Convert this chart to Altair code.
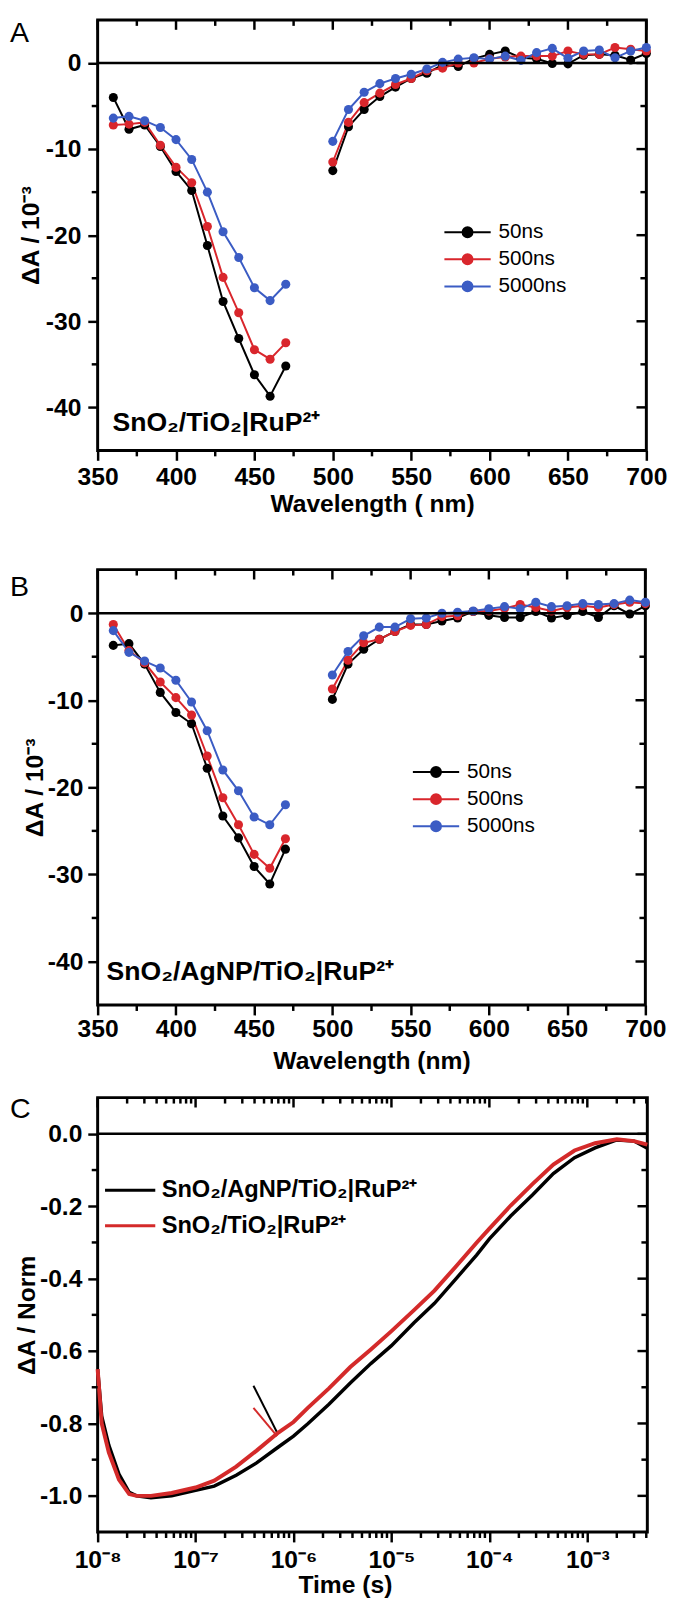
import altair as alt
import pandas as pd

FONT = "Liberation Sans"

# ---------------- Panels A and B : transient spectra ----------------
wl_uv = [360, 370, 380, 390, 400, 410, 420, 430, 440, 450, 460, 470]
wl_vis = [500, 510, 520, 530, 540, 550, 560, 570, 580, 590, 600,
          610, 620, 630, 640, 650, 660, 670, 680, 690, 700]

series_names = ["50ns", "500ns", "5000ns"]
series_colors = ["#000000", "#d9262c", "#3b5cc4"]

# Panel A  (SnO2/TiO2|RuP2+), ΔA / 1e-3
a_50_uv = [-4.0, -7.7, -7.2, -9.7, -12.6, -14.8, -21.2, -27.7, -32.0, -36.2, -38.7, -35.2]
a_500_uv = [-7.2, -7.1, -6.9, -9.55, -12.1, -13.9, -19.0, -24.9, -29.0, -33.3, -34.4, -32.5]
a_5000_uv = [-6.4, -6.2, -6.7, -7.5, -8.9, -11.2, -15.0, -19.6, -22.6, -26.1, -27.6, -25.7]
a_50_vis = [-12.5, -7.4, -5.4, -3.9, -2.8, -1.8, -1.2, -0.2, -0.4, 0.5, 1.0,
            1.4, 0.6, 0.5, -0.05, -0.1, 0.9, 1.0, 0.9, 0.35, 1.1]
a_500_vis = [-11.5, -6.9, -4.6, -3.5, -2.5, -1.8, -0.9, -0.6, 0.0, 0.0, 0.5,
             0.7, 0.8, 0.8, 0.8, 1.4, 1.0, 1.0, 1.8, 1.6, 1.4]
a_5000_vis = [-9.1, -5.4, -3.4, -2.4, -1.8, -1.3, -0.7, 0.07, 0.45, 0.6, 0.45,
              0.8, 0.3, 1.2, 1.7, 0.55, 1.4, 1.5, 0.6, 1.4, 1.8]

# Panel B  (SnO2/AgNP/TiO2|RuP2+)
b_50_uv = [-3.7, -3.5, -5.85, -9.1, -11.4, -12.7, -17.8, -23.3, -25.8, -29.1, -31.1, -27.1]
b_500_uv = [-1.3, -4.3, -5.7, -7.9, -9.7, -11.7, -16.4, -21.2, -24.3, -27.7, -29.3, -25.9]
b_5000_uv = [-2.0, -4.5, -5.5, -6.3, -7.7, -10.2, -13.5, -18.0, -20.4, -23.4, -24.3, -22.0]
b_50_vis = [-9.9, -5.85, -4.15, -3.0, -2.1, -1.3, -1.3, -0.9, -0.55, 0.2, -0.25,
            -0.5, -0.5, 0.2, -0.55, -0.25, 0.2, -0.5, 0.85, -0.1, 0.85]
b_500_vis = [-8.7, -5.4, -3.4, -3.0, -2.1, -1.4, -1.3, -0.4, -0.3, 0.2, 0.25,
             0.55, 1.0, 0.65, 0.25, 0.65, 0.85, 0.65, 1.0, 1.25, 1.1]
b_5000_vis = [-7.1, -4.4, -2.6, -1.6, -1.6, -0.65, -0.55, 0.0, 0.1, 0.25, 0.5,
              0.75, 0.5, 1.25, 0.75, 0.85, 1.1, 1.0, 1.1, 1.5, 1.25]

wl_domain = [350, 700]
wl_major = [350, 400, 450, 500, 550, 600, 650, 700]
wl_minor = [375, 425, 475, 525, 575, 625, 675]
dA_domain = [-45, 5]
dA_major = [-40, -30, -20, -10, 0]
dA_minor = [-35, -25, -15, -5]

# ---------------- Panel C : normalised kinetics ----------------
c_names = ["SnO₂/AgNP/TiO₂|RuP²⁺", "SnO₂/TiO₂|RuP²⁺"]
c_colors = ["#000000", "#d42a2a"]
time_s = [1.0e-8, 1.1e-8, 1.3e-8, 1.65e-8, 2.1e-8, 2.5e-8, 3.5e-8, 5.7e-8,
          1.0e-7, 1.55e-7, 2.6e-7, 4.2e-7, 7.0e-7, 1.0e-6, 1.4e-6, 2.3e-6,
          3.8e-6, 6.2e-6, 1.0e-5, 1.7e-5, 2.75e-5, 4.6e-5, 7.4e-5, 1.0e-4,
          1.65e-4, 2.75e-4, 4.5e-4, 7.4e-4, 1.2e-3, 2.0e-3, 3.0e-3, 4.1e-3]
c_agnp = [-0.65, -0.78, -0.86, -0.94, -0.99, -1.0, -1.005, -1.0,
          -0.985, -0.973, -0.943, -0.909, -0.865, -0.835, -0.801, -0.747,
          -0.688, -0.634, -0.585, -0.522, -0.468, -0.399, -0.335, -0.29,
          -0.227, -0.169, -0.110, -0.066, -0.039, -0.017, -0.02, -0.04]
c_tio2 = [-0.65, -0.80, -0.88, -0.955, -0.995, -1.0, -1.0, -0.992,
          -0.977, -0.958, -0.919, -0.875, -0.825, -0.796, -0.757, -0.703,
          -0.644, -0.595, -0.545, -0.487, -0.433, -0.365, -0.301, -0.262,
          -0.198, -0.139, -0.085, -0.046, -0.026, -0.015, -0.02, -0.03]
# two short stray segments near 1 µs
seg_time = [3.9e-7, 6.8e-7]
seg_agnp = [-0.696, -0.825]
seg_tio2 = [-0.757, -0.835]

time_domain = [1e-8, 4.1e-3]
time_major = [1e-8, 1e-7, 1e-6, 1e-5, 1e-4, 1e-3]
time_major_labels = ["10⁻⁸", "10⁻⁷", "10⁻⁶", "10⁻⁵", "10⁻⁴", "10⁻³"]
time_minor = [m * d for d in [1e-8, 1e-7, 1e-6, 1e-5, 1e-4] for m in range(2, 10)] + [2e-3, 3e-3, 4e-3]
norm_domain = [-1.1, 0.1]
norm_major = [-1.0, -0.8, -0.6, -0.4, -0.2, 0.0]
norm_minor = [-0.9, -0.7, -0.5, -0.3, -0.1]

MINUS = "replace(datum.label, '\u2212', '-')"
TICK_W = 2.5
LETTER_DX = -89


def spectra_df(uvs, viss):
    rows = []
    for name, uv, vis in zip(series_names, uvs, viss):
        for w, v in zip(wl_uv, uv):
            rows.append({"wl": w, "dA": v, "series": name, "seg": name + "_uv"})
        for w, v in zip(wl_vis, vis):
            rows.append({"wl": w, "dA": v, "series": name, "seg": name + "_vis"})
    return pd.DataFrame(rows)


def xtick_rules(values, scale, y0, y1):
    return alt.Chart(pd.DataFrame({"v": values})).mark_rule(
        color="black", strokeWidth=TICK_W).encode(
        x=alt.X("v:Q", scale=scale), y=alt.value(y0), y2=alt.value(y1))


def ytick_rules(values, scale, x0, x1):
    return alt.Chart(pd.DataFrame({"v": values})).mark_rule(
        color="black", strokeWidth=TICK_W).encode(
        y=alt.Y("v:Q", scale=scale), x=alt.value(x0), x2=alt.value(x1))


def frame_ticks(xsc, ysc, xmaj, xmin, ymaj, ymin, W, H):
    return [
        xtick_rules(xmin, xsc, H, H + 6),
        xtick_rules(xmaj, xsc, 0, 10),
        xtick_rules(xmin, xsc, 0, 6),
        ytick_rules(ymin, ysc, -6, 0),
        ytick_rules(ymaj, ysc, W - 10, W),
        ytick_rules(ymin, ysc, W - 6, W),
    ]


def text_layer(txt, dx, dy, size, weight):
    return alt.Chart(pd.DataFrame({"t": [txt]})).mark_text(
        align="left", baseline="alphabetic", fontSize=size, fontWeight=weight,
        font=FONT, color="black").encode(text="t:N", x=alt.value(dx), y=alt.value(dy))


def spacer_layer(y0, y1):
    # white (invisible on the white page) rule that only extends the layout bounds
    return alt.Chart(pd.DataFrame({"s": [0]})).mark_rule(color="white", strokeWidth=1).encode(
        x=alt.value(-60), y=alt.value(y0), y2=alt.value(y1))


def sym_path():
    u_end = 3.476
    cx = 1.238
    p = f"M-1,0L{u_end},0"
    for r in [0.1, 0.25, 0.4, 0.48]:
        p += f"M{cx + r:.3f},0A{r},{r} 0 1,1 {cx - r:.3f},0A{r},{r} 0 1,1 {cx + r:.3f},0"
    return p


def spectra_panel(df, letter, letter_dy, sample, sample_dx, W, H, x_title, x_label_pad,
                  x_title_pad, y_title_pad, y_label_pad, leg_x, leg_y, extra_bottom=None):
    xsc = alt.Scale(domain=wl_domain, nice=False, zero=False)
    ysc = alt.Scale(domain=dA_domain, nice=False, zero=False)
    legend = alt.Legend(title=None, orient="none", legendX=leg_x, legendY=leg_y,
                        symbolType=sym_path(), symbolSize=441, symbolStrokeWidth=2,
                        labelFontSize=21, labelFontWeight="normal", labelOffset=33,
                        rowPadding=5.5, padding=0, labelFont=FONT, labelColor="black")
    data = alt.Chart(df).mark_line(
        strokeWidth=2, point=alt.OverlayMarkDef(filled=True, size=85, opacity=1)
    ).encode(
        x=alt.X("wl:Q", scale=xsc, axis=alt.Axis(
            values=wl_major, tickSize=10, labelPadding=x_label_pad, format="d",
            title=x_title, titlePadding=x_title_pad)),
        y=alt.Y("dA:Q", scale=ysc, axis=alt.Axis(
            values=dA_major, tickSize=10, labelPadding=y_label_pad, format="d",
            labelExpr=MINUS, title="ΔA / 10⁻³", titlePadding=y_title_pad)),
        color=alt.Color("series:N", scale=alt.Scale(domain=series_names, range=series_colors),
                        legend=legend),
        detail="seg:N",
    )
    zero = alt.Chart(pd.DataFrame({"z": [0]})).mark_rule(color="black", strokeWidth=2.5).encode(
        y=alt.Y("z:Q", scale=ysc))
    layers = [data, zero] + frame_ticks(xsc, ysc, wl_major, wl_minor, dA_major, dA_minor, W, H)
    layers += [text_layer(letter, LETTER_DX, letter_dy, 29, "normal"),
               text_layer(sample, sample_dx, 417, 27, "bold")]
    if extra_bottom is not None:
        layers.append(spacer_layer(H + 50, H + extra_bottom))
    return alt.layer(*layers).properties(width=W, height=H)


pA = spectra_panel(spectra_df([a_50_uv, a_500_uv, a_5000_uv], [a_50_vis, a_500_vis, a_5000_vis]),
                   "A", 22, "SnO₂/TiO₂|RuP²⁺", 15, 557, 437, "Wavelength ( nm)", 5,
                   2, 2, 7, 351, 204, extra_bottom=97)
pB = spectra_panel(spectra_df([b_50_uv, b_500_uv, b_5000_uv], [b_50_vis, b_500_vis, b_5000_vis]),
                   "B", 27, "SnO₂/AgNP/TiO₂|RuP²⁺", 9, 556, 442, "Wavelength (nm)", 2,
                   7, 0, 5, 319, 194)

# ---------- Panel C ----------
c_xsc = alt.Scale(type="log", domain=time_domain, nice=False)
c_ysc = alt.Scale(domain=norm_domain, nice=False, zero=False)
c_color_scale = alt.Scale(domain=c_names, range=c_colors)
c_legend = alt.Legend(title=None, orient="none", legendX=6, legendY=70,
                      symbolType="M-1,0L1.267,0", symbolSize=2025, symbolStrokeWidth=3,
                      labelFontSize=24, labelFontWeight="bold", labelOffset=11,
                      rowPadding=0, padding=0, labelLimit=500, labelFont=FONT,
                      labelColor="black")
label_expr = " : ".join(
    f"datum.value < {v * 3:.1e} ? '{lab}'" for v, lab in zip(time_major[:-1], time_major_labels[:-1])
) + f" : '{time_major_labels[-1]}'"

df_agnp = pd.DataFrame({"t": time_s, "v": c_agnp, "sample": c_names[0]})
df_tio2 = pd.DataFrame({"t": time_s, "v": c_tio2, "sample": c_names[1]})
df_seg = pd.DataFrame({"t": seg_time + seg_time, "v": seg_agnp + seg_tio2,
                       "sample": [c_names[0]] * 2 + [c_names[1]] * 2})

C_W, C_H = 558, 441
c_black = alt.Chart(df_agnp).mark_line(strokeWidth=3.5).encode(
    x=alt.X("t:Q", scale=c_xsc, axis=alt.Axis(
        values=time_major, tickSize=10, labelPadding=6, labelExpr=label_expr,
        title="Time (s)", titlePadding=0, titleX=251)),
    y=alt.Y("v:Q", scale=c_ysc, axis=alt.Axis(
        values=norm_major, tickSize=10, labelPadding=6,
        labelExpr="replace(format(datum.value, '.1f'), '\u2212', '-')",
        title="ΔA / Norm", titlePadding=0)),
    color=alt.Color("sample:N", scale=c_color_scale, legend=c_legend),
)
c_red = alt.Chart(df_tio2).mark_line(strokeWidth=4).encode(
    x=alt.X("t:Q", scale=c_xsc),
    y=alt.Y("v:Q", scale=c_ysc),
    color=alt.Color("sample:N", scale=c_color_scale, legend=c_legend),
)
c_seg = alt.Chart(df_seg).mark_line(strokeWidth=2).encode(
    x=alt.X("t:Q", scale=c_xsc),
    y=alt.Y("v:Q", scale=c_ysc),
    color=alt.Color("sample:N", scale=c_color_scale, legend=c_legend),
    detail="sample:N",
)
c_zero = alt.Chart(pd.DataFrame({"z": [0]})).mark_rule(color="black", strokeWidth=2.5).encode(
    y=alt.Y("z:Q", scale=c_ysc))
c_layers = [c_black, c_zero, c_seg, c_red] + frame_ticks(
    c_xsc, c_ysc, time_major, time_minor, norm_major, norm_minor, C_W, C_H)
c_layers += [text_layer("C", LETTER_DX, 21, 29, "normal")]
pC = alt.layer(*c_layers).properties(width=C_W, height=C_H)

chart = alt.concat(pA, pB, pC, columns=1, spacing=19, align="none").resolve_scale(
    color="independent").resolve_legend(color="independent").properties(
    padding={"left": 0, "top": -3, "right": 0, "bottom": 0}
).configure_view(stroke="black", strokeWidth=3).configure_axis(
    labelFont=FONT, labelFontSize=25, labelFontWeight="bold", labelColor="black",
    titleFont=FONT, titleFontSize=25, titleFontWeight="bold", titleColor="black",
    tickColor="black", tickWidth=TICK_W, domain=False, grid=False,
    labelFlush=False, labelOverlap=False,
).configure_legend(labelFont=FONT)

chart.save("out.html", embed_options={"renderer": "svg", "actions": False})
